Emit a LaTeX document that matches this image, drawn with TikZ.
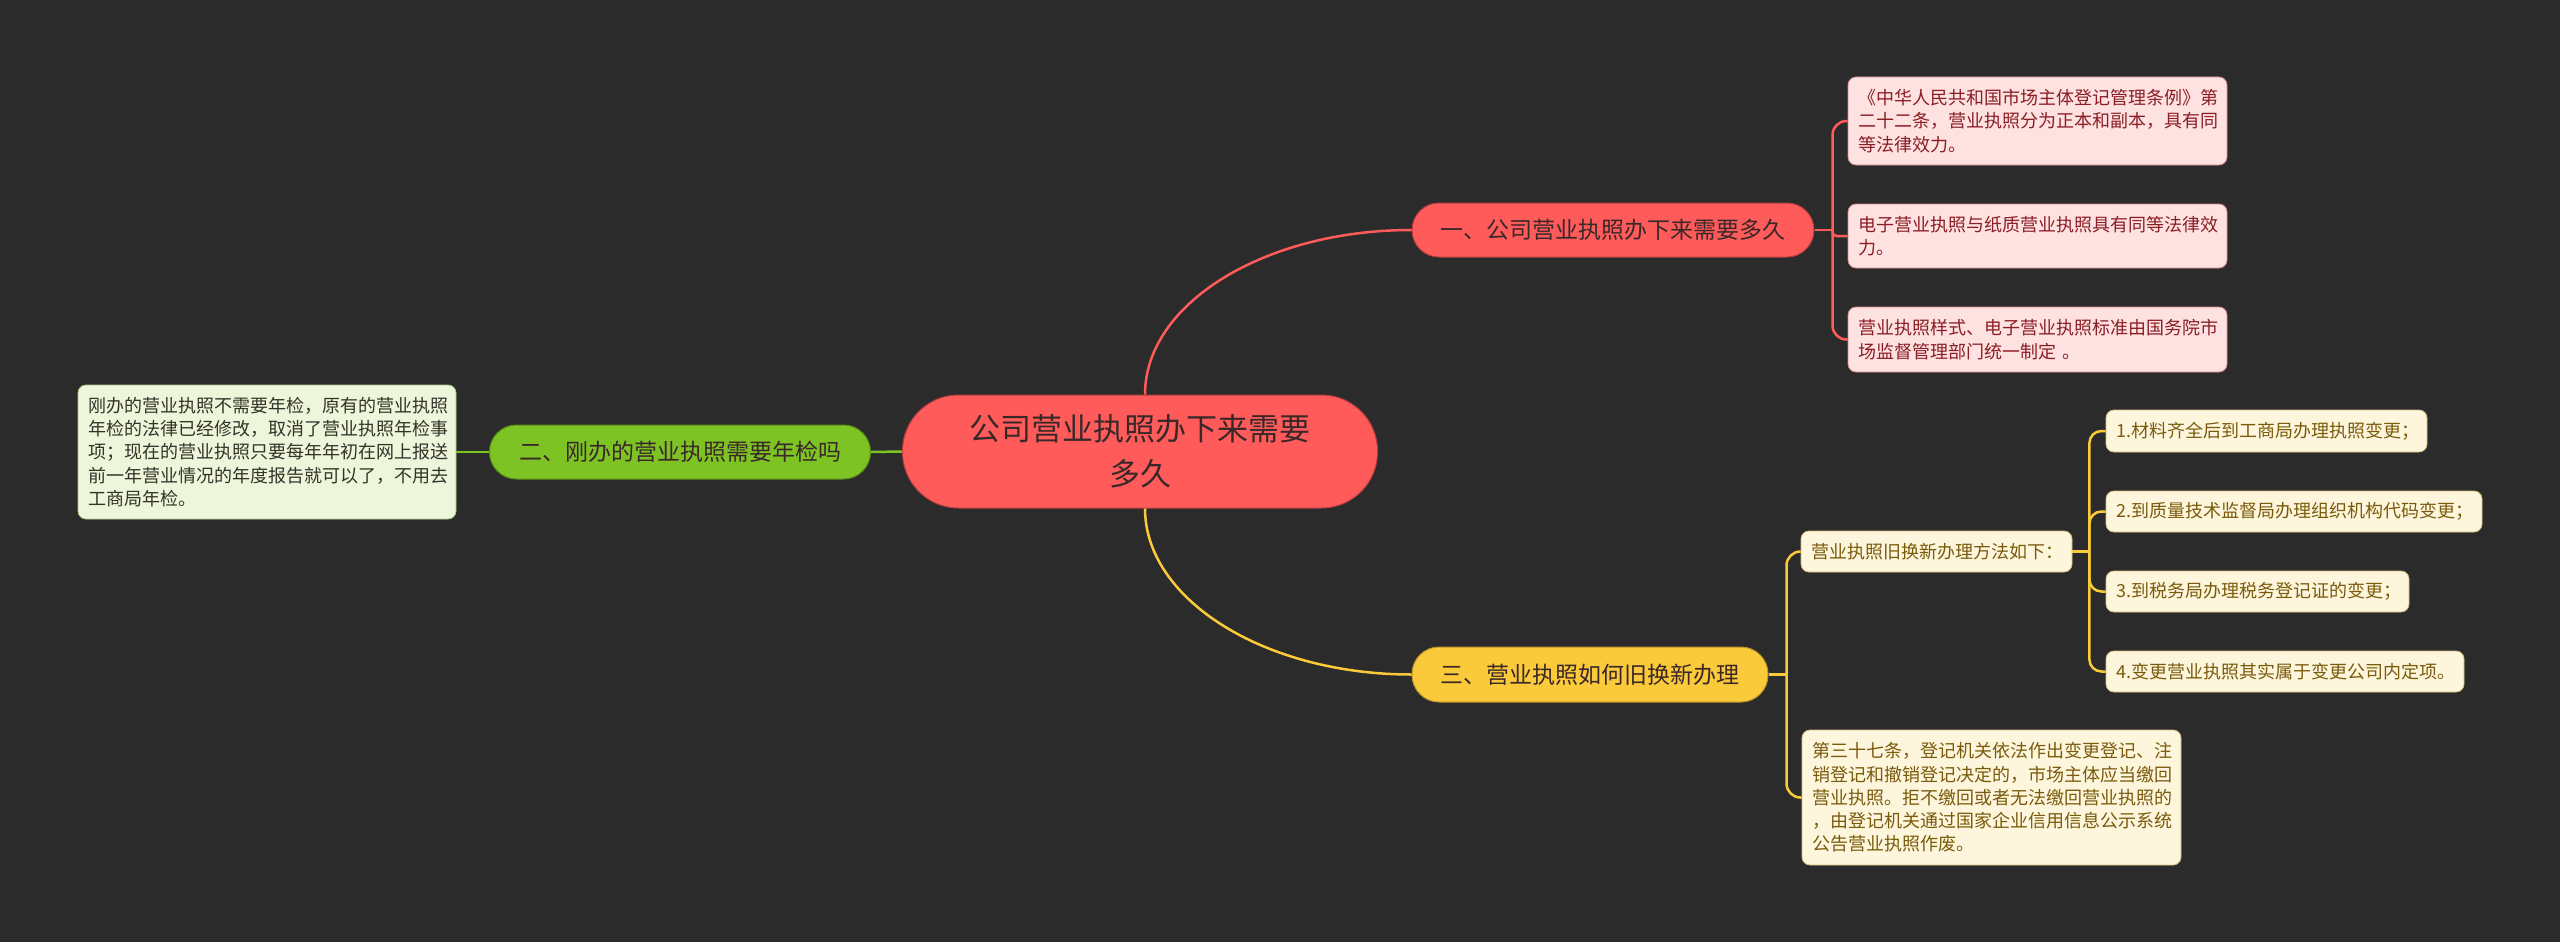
\documentclass[tikz,border=0pt]{standalone}
\usepackage{fontspec}
\setmainfont{Noto Sans CJK SC}
\usetikzlibrary{calc}
\definecolor{bgc}{HTML}{2B2B2B}
\definecolor{redc}{HTML}{FF5B5B}
\definecolor{redd}{HTML}{B83E3E}
\definecolor{redbox}{HTML}{FEE1E1}
\definecolor{redtxt}{HTML}{8B1E24}
\definecolor{yelc}{HTML}{FBCA3A}
\definecolor{yeld}{HTML}{B8922A}
\definecolor{yelbox}{HTML}{FDF5DC}
\definecolor{yeltxt}{HTML}{7A5B0C}
\definecolor{grnc}{HTML}{7EC324}
\definecolor{grnd}{HTML}{5A8F18}
\definecolor{grnbox}{HTML}{EDF5DA}
\definecolor{grntxt}{HTML}{333328}
\definecolor{maintxt}{HTML}{3A2828}
\begin{document}
\begin{tikzpicture}[x=1pt,y=-1pt,
  pill/.style={rectangle, rounded corners=27pt, inner sep=0pt, line width=1pt,
    font=\fontsize{23pt}{28pt}\selectfont, text=maintxt, minimum height=54pt},
  leaf/.style={rectangle, rounded corners=8pt, inner xsep=10pt, inner ysep=2pt, line width=0.8pt,
    font=\fontsize{18pt}{23.3pt}\selectfont, align=left},
  redleaf/.style={leaf, fill=redbox, draw=redd!60, text=redtxt, text width=359pt},
  yelleaf/.style={leaf, fill=yelbox, draw=yeld!60, text=yeltxt},
  redline/.style={draw=redc, line width=2.5pt},
  yelline/.style={draw=yelc, line width=2.5pt},
  grnline/.style={draw=grnc, line width=2.5pt}
]
\fill[bgc] (0,0) rectangle (2560,942);
\useasboundingbox (0,0) rectangle (2560,942);

% central node
\node[rectangle, rounded corners=56pt, fill=redc, draw=redd, line width=1pt,
  minimum width=475pt, minimum height=113pt, inner sep=0pt, align=center,
  font=\fontsize{31pt}{45pt}\selectfont, text=maintxt] (c) at (1140,451.5)
  {公司营业执照办下来需要\\多久};

% main branches
\node[pill, fill=redc, draw=redd, minimum width=402pt] (n1) at (1613,230) {一、公司营业执照办下来需要多久};
\node[pill, fill=grnc, draw=grnd, minimum width=381pt] (n2) at (680,452) {二、刚办的营业执照需要年检吗};
\node[pill, fill=yelc, draw=yeld, minimum width=356pt, minimum height=55pt] (n3) at (1590,674.5) {三、营业执照如何旧换新办理};

% red leaves
\node[redleaf, minimum height=88pt] (a) at (2037.5,121) {《中华人民共和国市场主体登记管理条例》第\\二十二条，营业执照分为正本和副本，具有同\\等法律效力。};
\node[redleaf, minimum height=64pt] (b) at (2037.5,236) {电子营业执照与纸质营业执照具有同等法律效\\力。};
\node[redleaf, minimum height=65pt] (d) at (2037.5,339.5) {营业执照样式、电子营业执照标准由国务院市\\场监督管理部门统一制定 。};

% green leaf
\node[leaf, fill=grnbox, draw=grnd!50, text=grntxt, text width=358pt, minimum height=134pt] (l) at (267,452)
  {刚办的营业执照不需要年检，原有的营业执照\\年检的法律已经修改，取消了营业执照年检事\\项；现在的营业执照只要每年年初在网上报送\\前一年营业情况的年度报告就可以了，不用去\\工商局年检。};

% yellow leaves
\node[yelleaf, text width=251pt, minimum height=41pt] (s) at (1936.5,551.5) {营业执照旧换新办理方法如下：};
\node[yelleaf, text width=359pt, minimum height=135pt] (e) at (1991.5,797.5)
  {第三十七条，登记机关依法作出变更登记、注\\销登记和撤销登记决定的，市场主体应当缴回\\营业执照。拒不缴回或者无法缴回营业执照的\\，由登记机关通过国家企业信用信息公示系统\\公告营业执照作废。};
\node[yelleaf, text width=301pt, minimum height=42pt] (i1) at (2266.5,431) {1.材料齐全后到工商局办理执照变更；};
\node[yelleaf, text width=356pt, minimum height=41pt] (i2) at (2294,511.5) {2.到质量技术监督局办理组织机构代码变更；};
\node[yelleaf, text width=283pt, minimum height=41pt] (i3) at (2257.5,591.5) {3.到税务局办理税务登记证的变更；};
\node[yelleaf, text width=338pt, minimum height=41pt] (i4) at (2285,671.5) {4.变更营业执照其实属于变更公司内定项。};

% central connectors
\draw[redline] ($(c.north)+(5,0)$) .. controls ($(c.north)+(5,-91)$) and ($(n1.west)+(-147,0)$) .. (n1.west);
\draw[yelline] ($(c.south)+(5,0)$) .. controls ($(c.south)+(5,91)$) and ($(n3.west)+(-147,0)$) .. (n3.west);
\draw[grnline] (c.west) -- (n2.east);
\draw[grnline] (n2.west) -- (l.east);

% red bracket
\coordinate (rb) at ($(n1.east)+(18,0)$);
\draw[redline] (n1.east) -- (rb);
\draw[redline, rounded corners=14pt] (rb) |- (a.west);
\draw[redline, rounded corners=4pt] (rb) |- (b.west);
\draw[redline, rounded corners=14pt] (rb) |- (d.west);

% yellow bracket
\coordinate (yb) at ($(n3.east)+(18,0)$);
\draw[yelline] (n3.east) -- (yb);
\draw[yelline, rounded corners=14pt] (yb) |- (s.west);
\draw[yelline, rounded corners=14pt] (yb) |- (e.west);

% sub bracket
\coordinate (sb) at ($(s.east)+(17,0)$);
\draw[yelline] (s.east) -- (sb);
\draw[yelline, rounded corners=12pt] (sb) |- (i1.west);
\draw[yelline, rounded corners=12pt] (sb) |- (i2.west);
\draw[yelline, rounded corners=12pt] (sb) |- (i3.west);
\draw[yelline, rounded corners=12pt] (sb) |- (i4.west);
\end{tikzpicture}
\end{document}
